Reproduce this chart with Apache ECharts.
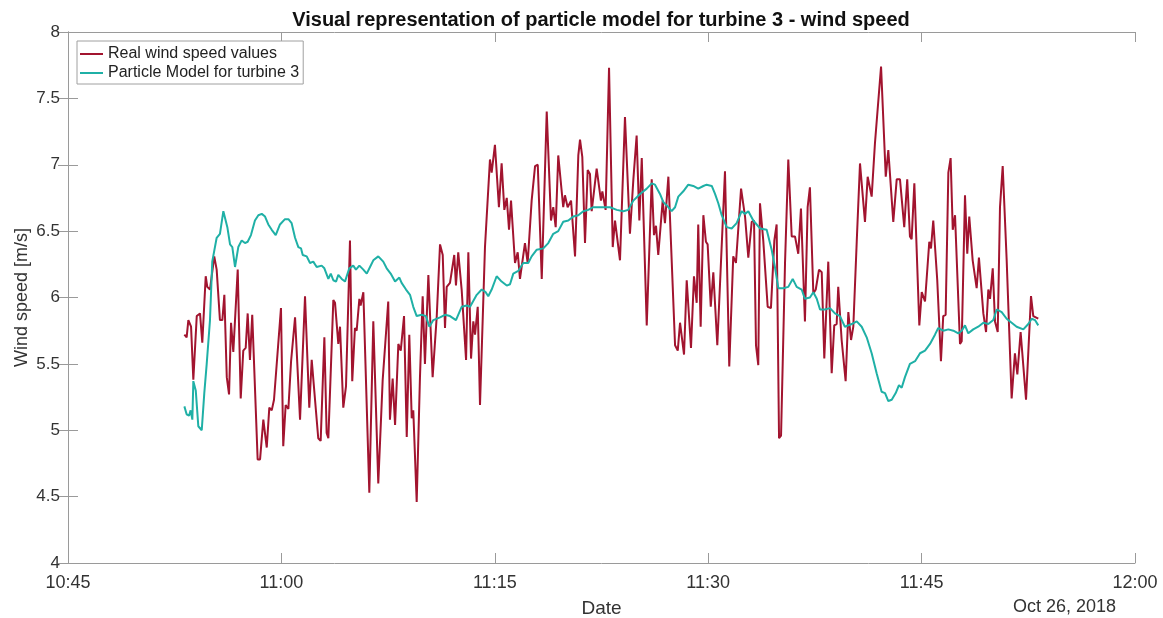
<!DOCTYPE html>
<html>
<head>
<meta charset="utf-8">
<script src="https://cdn.jsdelivr.net/npm/echarts@6/dist/echarts.min.js"></script>
<style>
  html, body { margin: 0; padding: 0; background: #fff; }
  #chart { width: 1163px; height: 618px; }
</style>
</head>
<body>
<div id="chart"></div>
<script>
// Minutes after 10:45:00 on Oct 26, 2018, and the matching wind speeds [m/s].
const realTimes = [
  8.18,8.34,8.46,8.65,8.81,9.05,9.28,9.44,9.68,9.79,
  9.98,10.28,10.45,10.68,10.85,10.99,11.16,11.32,11.46,11.62,
  11.93,12.14,12.32,12.49,12.63,12.79,12.95,13.33,13.50,13.73,
  13.97,14.15,14.32,14.48,14.97,15.13,15.30,15.49,15.68,15.96,
  16.31,16.66,16.96,17.13,17.59,17.76,18.02,18.18,18.30,18.65,
  18.77,19.00,19.12,19.35,19.54,19.82,19.98,20.17,20.29,20.48,
  20.57,20.76,21.18,21.46,21.81,22.12,22.23,22.51,22.63,22.82,
  22.99,23.22,23.39,23.62,23.81,23.99,24.16,24.27,24.51,24.74,
  24.93,25.09,25.33,25.45,25.63,25.92,26.15,26.34,26.50,26.62,
  26.85,27.15,27.27,27.43,27.67,27.98,28.14,28.33,28.49,28.61,
  28.80,28.96,29.31,29.66,29.78,30.01,30.29,30.48,30.67,30.84,
  31.00,31.14,31.42,31.61,31.77,32.12,32.31,32.59,32.83,33.02,
  33.30,33.65,33.95,34.11,34.28,34.46,34.81,34.93,35.12,35.36,
  35.64,35.87,35.99,36.15,36.34,36.53,36.69,36.81,37.16,37.46,
  37.56,37.79,38.03,38.29,38.45,38.80,39.15,39.50,39.74,39.97,
  40.16,40.33,40.68,41.03,41.19,41.33,41.49,41.80,41.96,42.20,
  42.67,42.86,43.02,43.14,43.30,43.49,43.79,44.00,44.19,44.30,
  44.47,44.66,44.84,44.96,45.18,45.36,45.64,46.18,46.48,46.76,
  46.95,47.31,47.59,47.82,48.06,48.22,48.36,48.52,48.64,48.87,
  49.18,49.41,49.65,49.81,49.98,50.12,50.40,50.63,50.87,51.10,
  51.33,51.52,51.80,51.99,52.15,52.39,52.56,52.79,52.98,53.16,
  53.44,53.68,53.86,54.03,54.14,54.38,54.66,54.85,55.04,55.20,
  55.44,55.67,56.02,56.21,56.49,56.72,57.15,57.48,57.66,58.01,
  58.25,58.48,58.78,58.99,59.18,59.30,59.49,59.84,60.01,60.24,
  60.54,60.66,60.82,61.10,61.36,61.52,61.69,61.88,62.04,62.19,
  62.35,62.70,62.82,63.05,63.21,63.35,63.59,63.87,64.03,64.34,
  64.53,64.69,64.81,65.00,65.16,65.35,65.51,65.70,65.98,66.33,
  66.56,66.73,66.96,67.34,67.69,67.85,68.20
];
const realSpeed = [
  5.72,5.70,5.83,5.78,5.38,5.86,5.88,5.66,6.16,6.08,
  6.06,6.31,6.21,5.83,5.83,6.02,5.40,5.27,5.81,5.59,
  6.21,5.24,5.60,5.62,5.88,5.53,5.87,4.78,4.78,5.08,
  4.87,5.17,5.15,5.23,5.92,4.88,5.19,5.16,5.52,5.85,
  5.08,6.01,5.17,5.53,4.94,4.92,5.70,4.98,4.94,5.98,
  5.96,5.65,5.78,5.17,5.33,6.43,5.37,5.77,5.75,5.99,
  5.94,6.04,4.53,5.82,4.60,5.38,5.39,5.97,5.08,5.39,
  5.04,5.65,5.60,5.86,4.95,5.72,5.09,5.15,4.46,5.40,
  6.01,5.50,6.17,6.16,5.40,5.86,6.40,6.32,5.77,6.08,
  6.11,6.32,6.09,6.34,6.06,5.53,6.34,5.54,5.82,5.72,
  5.93,5.19,6.38,7.04,6.94,7.15,6.68,7.01,6.66,6.75,
  6.51,6.73,6.26,6.34,6.14,6.41,6.26,6.73,6.99,7.00,
  6.14,7.40,6.58,6.68,6.53,7.07,6.68,6.77,6.68,6.73,
  6.31,7.07,7.19,7.06,6.41,6.96,6.93,6.65,6.97,6.73,
  6.80,6.66,7.73,6.38,6.58,6.28,7.36,6.48,6.89,7.22,
  6.58,7.05,5.79,6.89,6.47,6.54,6.32,6.73,6.56,6.91,
  5.64,5.60,5.81,5.80,5.57,6.13,5.62,6.16,5.96,6.55,
  5.78,6.62,6.42,6.40,5.93,6.19,5.64,6.95,5.48,6.31,
  6.26,6.82,6.61,6.30,6.57,6.58,5.64,5.49,6.71,6.43,
  5.93,5.92,6.43,6.55,4.94,4.96,6.26,7.04,6.46,6.46,
  6.33,6.67,5.82,6.68,6.83,6.03,6.06,6.21,6.19,5.54,
  6.27,5.43,5.79,5.80,6.08,5.68,5.37,5.89,5.68,5.78,
  6.42,7.01,6.57,6.91,6.76,7.16,7.74,6.91,7.11,6.57,
  6.89,6.89,6.53,6.89,6.46,6.44,6.86,5.79,6.04,5.97,
  6.42,6.37,6.58,6.13,5.52,5.86,5.87,6.94,7.05,6.51,
  6.62,5.65,5.67,6.77,6.33,6.61,6.28,6.07,6.30,5.88,
  5.74,6.06,5.99,6.22,5.82,5.74,6.68,6.99,6.28,5.24,
  5.58,5.42,5.74,5.23,6.01,5.86,5.84
];

const modelTimes = [
  8.18,8.34,8.51,8.62,8.74,8.81,8.98,9.16,9.40,9.58,
  9.75,9.98,10.14,10.45,10.68,10.92,11.04,11.20,11.39,11.55,
  11.74,11.97,12.21,12.44,12.63,12.86,13.14,13.38,13.62,13.85,
  14.08,14.32,14.60,14.90,15.25,15.49,15.72,15.96,16.19,16.38,
  16.50,16.78,17.01,17.24,17.48,17.83,18.02,18.30,18.47,18.65,
  18.84,19.00,19.24,19.47,19.77,20.05,20.24,20.48,20.76,21.00,
  21.23,21.46,21.81,22.16,22.40,22.68,22.99,23.29,23.45,23.76,
  24.04,24.27,24.51,24.86,25.16,25.40,25.68,26.15,26.50,26.85,
  27.27,27.67,28.02,28.26,28.73,29.08,29.36,29.54,29.78,30.13,
  30.48,30.84,31.07,31.30,31.65,32.00,32.35,32.59,32.95,33.41,
  33.76,34.11,34.46,34.81,35.17,35.52,35.87,36.22,36.57,36.92,
  37.27,37.75,38.10,38.57,39.04,39.38,39.74,40.21,40.68,41.03,
  41.26,41.61,41.84,42.12,42.43,42.67,42.90,43.25,43.60,43.95,
  44.30,44.66,44.89,45.25,45.48,45.71,45.95,46.30,46.65,47.00,
  47.35,47.59,47.82,48.17,48.64,49.11,49.46,49.69,49.93,50.28,
  50.63,50.94,51.22,51.57,51.80,52.15,52.39,52.63,52.86,53.21,
  53.56,53.91,54.26,54.61,55.09,55.44,55.79,56.14,56.49,56.84,
  57.19,57.43,57.66,57.90,58.18,58.41,58.60,58.83,59.18,59.54,
  59.89,60.24,60.59,60.94,61.17,61.53,61.88,62.23,62.58,62.82,
  63.05,63.28,63.63,63.98,64.34,64.69,65.04,65.28,65.63,65.98,
  66.33,66.68,67.15,67.50,67.74,67.97,68.20
];
const modelSpeed = [
  5.18,5.12,5.11,5.15,5.08,5.37,5.30,5.03,5.00,5.28,
  5.50,5.83,6.27,6.45,6.48,6.65,6.66,6.53,6.40,6.38,
  6.23,6.38,6.43,6.41,6.42,6.47,6.58,6.62,6.63,6.61,
  6.55,6.51,6.47,6.55,6.59,6.59,6.56,6.45,6.38,6.37,
  6.32,6.31,6.26,6.27,6.23,6.24,6.22,6.14,6.18,6.13,
  6.12,6.17,6.14,6.12,6.22,6.24,6.21,6.24,6.21,6.18,
  6.23,6.28,6.31,6.27,6.22,6.18,6.12,6.15,6.11,6.06,
  6.02,5.93,5.86,5.87,5.86,5.78,5.83,5.85,5.87,5.86,
  5.83,5.93,5.94,5.93,6.02,6.06,6.04,6.01,6.06,6.16,
  6.12,6.09,6.10,6.18,6.20,6.26,6.26,6.31,6.36,6.37,
  6.41,6.48,6.50,6.57,6.58,6.61,6.62,6.65,6.66,6.68,
  6.68,6.68,6.68,6.66,6.65,6.66,6.73,6.78,6.82,6.86,
  6.85,6.78,6.72,6.69,6.65,6.68,6.76,6.80,6.85,6.84,
  6.82,6.84,6.85,6.84,6.78,6.71,6.62,6.53,6.52,6.56,
  6.65,6.63,6.65,6.58,6.52,6.51,6.36,6.23,6.07,6.07,
  6.08,6.14,6.08,6.06,5.99,6.00,6.04,5.99,5.91,5.91,
  5.92,5.88,5.86,5.78,5.80,5.82,5.78,5.70,5.58,5.43,
  5.29,5.28,5.22,5.23,5.28,5.34,5.32,5.40,5.50,5.52,
  5.58,5.60,5.65,5.72,5.77,5.75,5.76,5.75,5.73,5.75,
  5.79,5.73,5.76,5.78,5.81,5.80,5.83,5.91,5.89,5.84,
  5.81,5.78,5.76,5.80,5.84,5.83,5.79
];

// Axis ticks: minutes after 10:45 and the clock labels shown for them.
const timeTicks = [0, 15, 30, 45, 60, 75];
const timeTickLabels = ['10:45', '11:00', '11:15', '11:30', '11:45', '12:00'];
const speedTicks = [4, 4.5, 5, 5.5, 6, 6.5, 7, 7.5, 8];

const seriesNames = ['Real wind speed values', 'Particle Model for turbine 3'];
const seriesColors = ['#A2142F', '#1FB0A6'];
const dateLabel = 'Oct 26, 2018';

const zip = (xs, ys) => xs.map((x, i) => [x, ys[i]]);

const FONT = '"Liberation Sans", Arial, Helvetica, sans-serif';
const TEXT = '#333333';
const FRAME = '#9a9a9a';

const chart = echarts.init(document.getElementById('chart'), null, { renderer: 'canvas' });

const xBase = {
  type: 'value',
  min: timeTicks[0],
  max: timeTicks[timeTicks.length - 1],
  interval: 15,
  splitLine: { show: false },
  axisLine: { show: true, lineStyle: { color: FRAME, width: 1 } },
  axisTick: { show: true, inside: true, length: 10, lineStyle: { color: FRAME } }
};
const yBase = {
  type: 'value',
  min: speedTicks[0],
  max: speedTicks[speedTicks.length - 1],
  interval: 0.5,
  splitLine: { show: false },
  axisLine: { show: true, lineStyle: { color: FRAME, width: 1 } },
  axisTick: { show: true, inside: true, length: 10, lineStyle: { color: FRAME } }
};

chart.setOption({
  animation: false,
  backgroundColor: '#ffffff',
  textStyle: { fontFamily: FONT },
  title: {
    text: 'Visual representation of particle model for turbine 3 - wind speed',
    left: 601, top: 10, textAlign: 'center', padding: 0,
    textStyle: { fontFamily: FONT, fontSize: 20, fontWeight: 'bold', color: '#111' }
  },
  legend: {
    orient: 'vertical',
    left: 77, top: 41,
    padding: [5, 4, 3, 3],
    itemGap: 3,
    icon: 'rect',
    itemWidth: 23, itemHeight: 2,
    backgroundColor: '#fff',
    borderColor: '#a0a0a0', borderWidth: 1,
    textStyle: { fontFamily: FONT, fontSize: 16, color: '#222', lineHeight: 16 },
    data: seriesNames
  },
  grid: {
    left: 68, right: 28, top: 32, bottom: 55,
    containLabel: false, outerBoundsMode: 'none'
  },
  xAxis: [
    Object.assign({}, xBase, {
      position: 'bottom',
      name: 'Date', nameLocation: 'middle', nameGap: 36, nameMoveOverlap: false,
      nameTextStyle: { fontFamily: FONT, fontSize: 19, color: TEXT },
      axisLabel: {
        fontFamily: FONT, fontSize: 18, color: TEXT, margin: 11,
        formatter: v => timeTickLabels[timeTicks.indexOf(v)] || ''
      }
    }),
    Object.assign({}, xBase, { position: 'top', axisLabel: { show: false } })
  ],
  yAxis: [
    Object.assign({}, yBase, {
      position: 'left',
      name: 'Wind speed [m/s]', nameLocation: 'middle', nameGap: 37, nameRotate: 90,
      nameMoveOverlap: false,
      nameTextStyle: { fontFamily: FONT, fontSize: 18, color: TEXT },
      axisLabel: { fontFamily: FONT, fontSize: 17, color: TEXT, margin: 8 }
    }),
    Object.assign({}, yBase, { position: 'right', axisLabel: { show: false } })
  ],
  graphic: [{
    type: 'text', left: 1013, top: 598,
    style: { text: dateLabel, font: '18px ' + FONT, fill: TEXT }
  }],
  series: [
    {
      name: seriesNames[0], type: 'line', xAxisIndex: 0, yAxisIndex: 0,
      data: zip(realTimes, realSpeed),
      symbol: 'none', lineStyle: { color: seriesColors[0], width: 2 },
      itemStyle: { color: seriesColors[0] }, z: 3
    },
    {
      name: seriesNames[1], type: 'line', xAxisIndex: 0, yAxisIndex: 0,
      data: zip(modelTimes, modelSpeed),
      symbol: 'none', lineStyle: { color: seriesColors[1], width: 2 },
      itemStyle: { color: seriesColors[1] }, z: 4
    }
  ]
});
</script>
</body>
</html>
